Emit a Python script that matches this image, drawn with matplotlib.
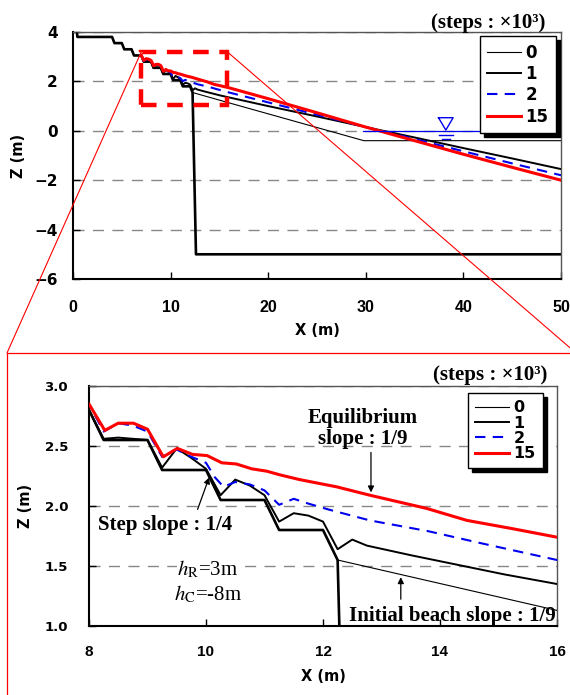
import numpy as np
import matplotlib
matplotlib.use("Agg")
import matplotlib.pyplot as plt
from matplotlib.patches import Rectangle, ConnectionPatch
from matplotlib.lines import Line2D

plt.rcParams["mathtext.fontset"] = "stix"

# ── data ─────────────────────────────────────────────────────────────────────
# stepped revetment (structure outline)
x_struct = [0.4, 0.45, 4.0, 4.25, 5.0, 5.25, 6.0, 6.25, 7.0, 7.25, 8.0, 8.25, 9.0, 9.25,
            10.0, 10.25, 11.0, 11.25, 12.0, 12.25, 12.6, 50.0]
z_struct = [4.0, 3.8, 3.8, 3.55, 3.55, 3.3, 3.3, 3.05, 3.05, 2.8, 2.8, 2.55, 2.55, 2.3,
            2.3, 2.05, 2.05, 1.8, 1.8, 1.55, -5.0, -5.0]

# steps 0 (initial profile)
x0 = [0.4, 0.45, 4.0, 4.25, 5.0, 5.25, 6.0, 6.25, 7.0, 7.25, 8.0, 8.25, 9.0, 9.25,
      10.0, 10.25, 11.0, 11.25, 12.0, 12.25, 16.0, 29.8, 50.0]
z0 = [4.0, 3.8, 3.8, 3.55, 3.55, 3.3, 3.3, 3.05, 3.05, 2.8, 2.8, 2.55, 2.55, 2.3,
      2.3, 2.05, 2.05, 1.8, 1.8, 1.55, 1.13, -0.4, -0.4]

# steps 1000
x1 = [7.0, 7.25, 7.5, 7.75, 8.0, 8.25, 8.5, 8.75, 9.0, 9.25, 9.5, 9.75, 10.0, 10.25, 10.5,
      10.75, 11.0, 11.25, 11.5, 11.75, 12.0, 12.25, 12.5, 12.75, 13.5, 14.3, 15.1, 16.0,
      20.0, 25.0, 30.0, 35.0, 40.0, 45.0, 50.0]
z1 = [3.05, 2.82, 2.84, 2.82, 2.8, 2.56, 2.57, 2.56, 2.55, 2.32, 2.48, 2.40, 2.31, 2.09, 2.22,
      2.17, 2.09, 1.87, 1.94, 1.92, 1.87, 1.64, 1.72, 1.67, 1.59, 1.51, 1.43, 1.35,
      1.0, 0.58, 0.15, -0.27, -0.7, -1.12, -1.55]

# steps 2000
x2 = [7.0, 7.25, 7.5, 7.75, 8.0, 8.25, 8.5, 8.75, 9.0, 9.25, 9.5, 9.75, 10.0, 10.15, 10.3,
      10.5, 10.75, 11.0, 11.25, 11.5, 11.75, 12.1, 12.8, 13.8, 14.7, 16.0,
      20.0, 25.0, 30.0, 35.0, 40.0, 45.0, 50.0]
z2 = [3.05, 2.83, 2.88, 2.86, 2.85, 2.62, 2.69, 2.67, 2.62, 2.41, 2.47, 2.41, 2.36, 2.24, 2.16,
      2.2, 2.18, 2.13, 2.01, 2.06, 2.02, 1.97, 1.88, 1.79, 1.69, 1.55,
      1.15, 0.65, 0.15, -0.33, -0.83, -1.32, -1.8]

# steps 15000
x15 = [7.0, 7.25, 7.5, 7.75, 8.0, 8.27, 8.5, 8.76, 9.0, 9.27, 9.51, 9.77, 10.02, 10.27, 10.52,
       10.78, 11.04, 11.26, 11.6, 12.23, 12.8, 13.77, 14.46, 15.25, 16.0,
       20.0, 25.0, 30.0, 35.0, 40.0, 45.0, 50.0]
z15 = [3.05, 2.85, 2.92, 2.9, 2.85, 2.63, 2.69, 2.69, 2.64, 2.41, 2.48, 2.43, 2.42, 2.36, 2.35,
       2.31, 2.29, 2.26, 2.22, 2.16, 2.09, 1.98, 1.88, 1.81, 1.74,
       1.3, 0.73, 0.15, -0.4, -0.95, -1.48, -2.0]

series = [
    ("0", x0, z0, dict(color="black", lw=0.8)),
    ("1", x1, z1, dict(color="black", lw=1.4)),
    ("2", x2, z2, dict(color="#0000ee", lw=1.5, ls=(0, (5, 3.5)))),
    ("15", x15, z15, dict(color="red", lw=2.2)),
]

# still water level
swl_x = [29.7, 50.0]
swl_z = [0.0, 0.0]
SWL_MARK_X = 38.2

# zoom window (drawn on top panel)
ZOOM_X0, ZOOM_X1, ZOOM_Z0, ZOOM_Z1 = 7.0, 15.8, 1.05, 3.2

SERIF = "Liberation Serif"
SANS = "DejaVu Sans"
SANS_NARROW = "Liberation Sans"

W, H = 570, 695
fig = plt.figure(figsize=(W / 100, H / 100), dpi=100)
ax1 = fig.add_axes([73 / W, 1 - 279 / H, 488 / W, 247 / H])
ax2 = fig.add_axes([89 / W, 1 - 626 / H, 468 / W, 240 / H])


def style_axes(ax, xfs, yfs, xpad, ypad):
    for side in ("left", "bottom"):
        ax.spines[side].set_linewidth(1.5)
        ax.spines[side].set_color("black")
    for side in ("top", "right"):
        ax.spines[side].set_linewidth(1.0)
        ax.spines[side].set_color("#555555")
    ax.tick_params(direction="in", length=5, width=1)
    ax.tick_params(axis="x", pad=xpad, labelsize=xfs)
    ax.tick_params(axis="y", pad=ypad, labelsize=yfs)
    for lab in ax.get_xticklabels():
        lab.set_fontweight("bold")
        lab.set_family(SANS_NARROW)
    for lab in ax.get_yticklabels():
        lab.set_fontweight("bold")
        lab.set_family(SANS)
    ax.grid(axis="y", color="#888888", lw=1, ls=(0, (8, 6)))
    ax.set_axisbelow(True)


def draw_profiles(ax):
    ax.plot(x_struct, z_struct, color="black", lw=1.9, zorder=2)
    handles = []
    for label, xs, zs, kw in series:
        (h,) = ax.plot(xs, zs, label=label, zorder=3, **kw)
        handles.append(h)
    return handles


def add_legend(ax, handles, fs, loc_bbox, spacing, hlen):
    leg = ax.legend(handles=handles, loc="upper right", bbox_to_anchor=loc_bbox,
                    prop=dict(family=SANS, weight="bold", size=fs),
                    frameon=True, fancybox=False,
                    shadow={"color": "black", "alpha": 1, "ox": 3, "oy": -3},
                    handlelength=hlen, handletextpad=0.3, labelspacing=spacing,
                    borderpad=0.45, borderaxespad=0)
    leg.get_frame().set_edgecolor("black")
    leg.get_frame().set_linewidth(1.0)
    return leg


# ── top panel ────────────────────────────────────────────────────────────────
handles = draw_profiles(ax1)
ax1.plot(swl_x, swl_z, color="#0000ee", lw=0.9, zorder=3)
ax1.plot([SWL_MARK_X - 0.75, SWL_MARK_X + 0.75, SWL_MARK_X, SWL_MARK_X - 0.75],
         [0.53, 0.53, 0.03, 0.53], color="#0000ee", lw=1.0, zorder=4)
ax1.plot([SWL_MARK_X - 0.7, SWL_MARK_X + 0.7], [-0.15, -0.15], color="#0000ee", lw=1.0)
ax1.plot([SWL_MARK_X - 0.4, SWL_MARK_X + 0.4], [-0.32, -0.32], color="#0000ee", lw=1.0)

ax1.add_patch(Rectangle((ZOOM_X0, ZOOM_Z0), ZOOM_X1 - ZOOM_X0, ZOOM_Z1 - ZOOM_Z0,
                        fill=False, ec="red", lw=3.2, ls=(0, (3.5, 2.4)), zorder=5))
ax1.set_xlim(0, 50)
ax1.set_ylim(-6, 4)
ax1.set_xticks([0, 10, 20, 30, 40, 50])
ax1.set_yticks([-6, -4, -2, 0, 2, 4])
style_axes(ax1, 11.5, 11, 15, 11)
ax1.set_xlabel("X (m)", family=SANS, weight="bold", fontsize=10.5, labelpad=6)
ax1.set_ylabel("Z (m)", family=SANS, weight="bold", fontsize=10.5, labelpad=6)
add_legend(ax1, handles, 12, ((556 - 73) / 488, (279 - 36) / 247), 0.2, 2.0)
fig.text(545 / W, 1 - 23 / H, "(steps : ×10³)", family=SERIF, weight="bold",
         fontsize=15, ha="right", va="center")

# ── bottom panel ─────────────────────────────────────────────────────────────
handles2 = draw_profiles(ax2)
ax2.set_xlim(8, 16)
ax2.set_ylim(1.0, 3.0)
ax2.set_xticks([8, 10, 12, 14, 16])
ax2.set_yticks([1.0, 1.5, 2.0, 2.5, 3.0])
ax2.set_yticklabels(["1.0", "1.5", "2.0", "2.5", "3.0"])
style_axes(ax2, 11, 9.5, 14, 15)
ax2.set_xlabel("X (m)", family=SANS, weight="bold", fontsize=10.5, labelpad=7)
ax2.set_ylabel("Z (m)", family=SANS, weight="bold", fontsize=10.5, labelpad=8)
add_legend(ax2, handles2, 11.5, ((543 - 89) / 468, (626 - 393) / 240), 0.02, 2.1)
fig.text(547 / W, 1 - 375 / H, "(steps : ×10³)", family=SERIF, weight="bold",
         fontsize=15, ha="right", va="center")

arrow = dict(arrowstyle="-|>", color="black", lw=0.9, mutation_scale=9)
ax2.text(12.68, 2.645, "Equilibrium\nslope : 1/9", family=SERIF, weight="bold",
         fontsize=15, ha="center", va="center", linespacing=1.05, zorder=6)
ax2.annotate("", xy=(12.82, 2.09), xytext=(12.82, 2.47), arrowprops=arrow)
ax2.text(8.15, 1.84, "Step slope : 1/4", family=SERIF, weight="bold",
         fontsize=15, ha="left", va="center", zorder=6)
ax2.annotate("", xy=(10.07, 2.26), xytext=(9.84, 1.95), arrowprops=arrow)
ax2.text(10.03, 1.47, r"$h_{\mathrm{R}}$=3m", family=SERIF, fontsize=15,
         ha="center", va="center",
         bbox=dict(fc="white", ec="none", pad=0.5))
ax2.text(10.03, 1.26, r"$h_{\mathrm{C}}$=-8m", family=SERIF, fontsize=15,
         ha="center", va="center")
ax2.text(15.98, 1.08, "Initial beach slope : 1/9", family=SERIF, weight="bold",
         fontsize=15, ha="right", va="center", zorder=6)
ax2.annotate("", xy=(13.33, 1.43), xytext=(13.33, 1.2), arrowprops=arrow)

# ── zoom frame and connectors ────────────────────────────────────────────────
fx, fy = 7 / W, 1 - 353 / H
fig.add_artist(Line2D([fx, fx, 1.02], [-0.02, fy, fy], transform=fig.transFigure,
                      color="red", lw=0.9))
for zx, tx in ((ZOOM_X0, fx), (ZOOM_X1, 576 / W)):
    con = ConnectionPatch(xyA=(zx, ZOOM_Z1), coordsA=ax1.transData,
                          xyB=(tx, fy), coordsB=fig.transFigure,
                          color="red", lw=0.8, zorder=1)
    fig.add_artist(con)

fig.savefig("out.png", dpi=100, facecolor="white")
